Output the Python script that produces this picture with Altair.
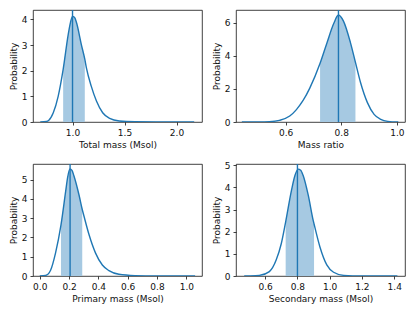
import altair as alt
import pandas as pd

# ---- data ----
total_x = [0.69, 0.75, 0.77, 0.815, 0.862, 0.91, 0.958, 0.98, 1.0, 1.02, 1.038, 1.086, 1.118, 1.134, 1.18, 1.23, 1.29, 1.357, 1.45, 1.6, 1.8, 2.17]
total_y = [0.0, 0.02, 0.06, 0.36, 1.0, 2.05, 3.4, 3.88, 4.12, 4.08, 3.88, 3.0, 2.45, 2.1, 1.4, 0.82, 0.36, 0.14, 0.04, 0.008, 0.001, 0.0]
total_lo, total_mid, total_hi = 0.91, 1.0, 1.118

ratio_x = [0.443, 0.5, 0.542, 0.578, 0.615, 0.639, 0.663, 0.687, 0.724, 0.748, 0.773, 0.79, 0.808, 0.833, 0.851, 0.869, 0.894, 0.918, 0.942, 0.967, 1.005]
ratio_y = [0.0, 0.005, 0.02, 0.1, 0.36, 0.75, 1.3, 2.05, 3.55, 4.75, 5.95, 6.47, 6.1, 4.8, 3.6, 2.4, 1.17, 0.46, 0.16, 0.04, 0.0]
ratio_lo, ratio_mid, ratio_hi = 0.724, 0.79, 0.851

prim_x = [0.0, 0.04, 0.074, 0.108, 0.145, 0.177, 0.19, 0.206, 0.22, 0.233, 0.268, 0.29, 0.302, 0.336, 0.38, 0.427, 0.472, 0.54, 0.65, 0.8, 1.06]
prim_y = [0.0, 0.03, 0.3, 1.2, 2.65, 4.4, 5.1, 5.55, 5.48, 5.2, 4.2, 3.45, 3.1, 2.15, 1.2, 0.57, 0.28, 0.09, 0.02, 0.002, 0.0]
prim_lo, prim_mid, prim_hi = 0.145, 0.207, 0.29

sec_x = [0.47, 0.50, 0.564, 0.626, 0.668, 0.70, 0.727, 0.763, 0.785, 0.804, 0.82, 0.835, 0.867, 0.898, 0.903, 0.94, 0.982, 1.024, 1.087, 1.2, 1.42]
sec_y = [0.0, 0.005, 0.03, 0.2, 0.72, 1.47, 2.45, 3.87, 4.55, 4.83, 4.78, 4.55, 3.65, 2.5, 2.35, 1.3, 0.5, 0.17, 0.03, 0.003, 0.0]
sec_lo, sec_mid, sec_hi = 0.727, 0.80, 0.903

BLUE = "#1f77b4"
FILL = "#a6c9e2"
W, H = 169, 112


def panel(xs, ys, lo, mid, hi, title, xdom, ydom, xticks, yticks, h):
    df = pd.DataFrame({"x": xs, "y": ys})
    xsc = alt.Scale(domain=xdom, nice=False, zero=False)
    ysc = alt.Scale(domain=ydom, nice=False, zero=False)
    xax = alt.Axis(values=xticks, format=".1f", title=title)
    yax = alt.Axis(values=yticks, format="d", title="Probability")
    base = alt.Chart(df)
    area = base.transform_filter(
        (alt.datum.x >= lo) & (alt.datum.x <= hi)
    ).mark_area(color=FILL, interpolate="monotone", clip=True).encode(
        x=alt.X("x:Q", scale=xsc, axis=xax),
        y=alt.Y("y:Q", scale=ysc, axis=yax),
    )
    line = base.mark_line(color=BLUE, strokeWidth=1.4, interpolate="monotone", clip=True).encode(
        x=alt.X("x:Q", scale=xsc, axis=xax),
        y=alt.Y("y:Q", scale=ysc, axis=yax),
    )
    rule = alt.Chart(pd.DataFrame({"x": [mid]})).mark_rule(color=BLUE, strokeWidth=1.4).encode(
        x=alt.X("x:Q", scale=xsc, axis=xax),
    )
    return alt.layer(area, line, rule).properties(width=W, height=h)


p1 = panel(total_x, total_y, total_lo, total_mid, total_hi, "Total mass (Msol)",
           [0.62, 2.245], [0, 4.37], [1.0, 1.5, 2.0], [0, 1, 2, 3, 4], 112)
p2 = panel(ratio_x, ratio_y, ratio_lo, ratio_mid, ratio_hi, "Mass ratio",
           [0.422, 1.029], [0, 6.77], [0.6, 0.8, 1.0], [0, 2, 4, 6], 112)
p3 = panel(prim_x, prim_y, prim_lo, prim_mid, prim_hi, "Primary mass (Msol)",
           [-0.046, 1.107], [0, 5.81], [0.0, 0.2, 0.4, 0.6, 0.8, 1.0], [0, 1, 2, 3, 4, 5], 112)
p4 = panel(sec_x, sec_y, sec_lo, sec_mid, sec_hi, "Secondary mass (Msol)",
           [0.419, 1.467], [0, 5.06], [0.6, 0.8, 1.0, 1.2, 1.4], [0, 1, 2, 3, 4, 5], 112)

chart = alt.vconcat(
    alt.hconcat(p1, p2, spacing=8),
    alt.hconcat(p3, p4, spacing=8),
    spacing=10,
).properties(
    padding={"left": 0, "top": 0, "right": 0, "bottom": 0},
    background="white",
).configure_view(
    stroke="#111", strokeWidth=0.8
).configure_axis(
    grid=False, domain=False, tickColor="#111", tickSize=3, tickWidth=0.8,
    labelFont="DejaVu Sans", labelFontSize=9, labelColor="#111", labelPadding=3,
    labelOverlap=False,
    titleFont="DejaVu Sans", titleFontSize=9, titleFontWeight="normal", titleColor="#111",
    titlePadding=3,
)

chart.save("out.html", embed_options={"renderer": "svg", "actions": False})
